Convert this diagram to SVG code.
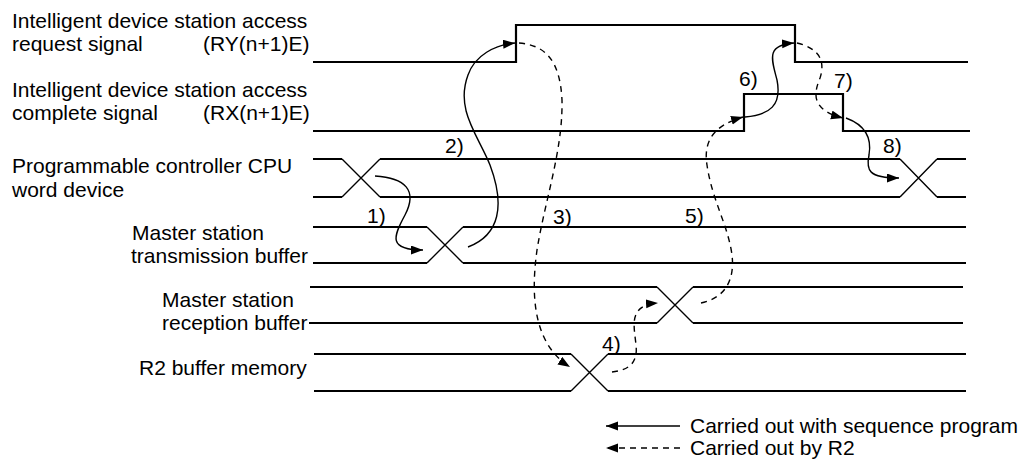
<svg xmlns="http://www.w3.org/2000/svg" width="1027" height="464" viewBox="0 0 1027 464">
<style>
text{font-family:"Liberation Sans",Arial,sans-serif;font-size:21px;fill:#000}
.sig{fill:none;stroke:#000;stroke-width:2.2}
.x{fill:none;stroke:#000;stroke-width:1.4}
.c{fill:none;stroke:#000;stroke-width:1.4}
.d{fill:none;stroke:#000;stroke-width:1.4;stroke-dasharray:6 5}
</style>
<defs>
<marker id="ah" markerUnits="userSpaceOnUse" markerWidth="13" markerHeight="10" refX="12" refY="4.5" orient="auto">
<path d="M0,0 L12,4.5 L0,9 z" fill="#000"/>
</marker>
</defs>
<rect width="1027" height="464" fill="#fff"/>
<g id="ry">
<text x="12" y="28">Intelligent device station access</text>
<text x="12" y="51">request signal</text>
<text x="203" y="51">(RY(n+1)E)</text>
<polyline class="sig" points="313,62 516,62 516,25 795,25 795,62 968,62"/>
</g>
<g id="rx">
<text x="12" y="97">Intelligent device station access</text>
<text x="12" y="120">complete signal</text>
<text x="203" y="120">(RX(n+1)E)</text>
<polyline class="sig" points="313,131 744,131 744,94 843,94 843,131 970,131"/>
</g>
<g id="cpu">
<text x="12" y="173">Programmable controller CPU</text>
<text x="12" y="197">word device</text>
<path class="sig" d="M313,159 H342 M380,159 H900 M937,159 H966 M313,197 H342 M380,197 H900 M937,197 H966"/>
<path class="x" d="M342,159 L380,197 M342,197 L380,159 M900,159 L937,197 M900,197 L937,159"/>
</g>
<g id="mtx">
<text x="132" y="240">Master station</text>
<text x="131" y="263">transmission buffer</text>
<path class="sig" d="M313,227 H427 M463,227 H966 M313,263 H427 M463,263 H966"/>
<path class="x" d="M427,227 L463,263 M427,263 L463,227"/>
</g>
<g id="mrx">
<text x="162" y="307">Master station</text>
<text x="162" y="330">reception buffer</text>
<path class="sig" d="M310,287 H657 M693,287 H963 M309,323 H657 M693,323 H963"/>
<path class="x" d="M657,287 L693,323 M657,323 L693,287"/>
</g>
<g id="r2">
<text x="139" y="375">R2 buffer memory</text>
<path class="sig" d="M314,354 H571 M608,354 H966 M314,391 H571 M608,391 H966"/>
<path class="x" d="M571,354 L608,391 M571,391 L608,354"/>
</g>
<g id="connectors">
<path class="c" marker-end="url(#ah)" d="M375,176 C405,178 418,190 405,215 C393,237 388,250 423,250"/>
<path class="c" marker-end="url(#ah)" d="M468,247 C500,235 505,205 490,165 C478,135 455,110 468,75 C475,55 495,45 515,43"/>
<path class="d" marker-end="url(#ah)" d="M519,43 C545,45 560,60 562,100 C563,150 545,200 537,250 C530,300 535,345 570,367"/>
<path class="d" marker-end="url(#ah)" d="M612,372 C630,370 638,362 636,345 C634,325 628,305 658,303"/>
<path class="d" marker-end="url(#ah)" d="M701,303 C725,298 735,280 732,255 C728,225 712,200 707,165 C703,140 715,125 743,117"/>
<path class="c" marker-end="url(#ah)" d="M745,117 C770,115 782,105 777,80 C772,60 765,45 794,43"/>
<path class="d" marker-end="url(#ah)" d="M797,43 C818,48 826,60 820,78 C813,95 812,110 843,118"/>
<path class="c" marker-end="url(#ah)" d="M846,118 C865,125 872,138 869,155 C866,170 868,178 899,178"/>
</g>
<g id="steps">
<text x="367" y="223">1)</text>
<text x="445" y="153">2)</text>
<text x="553" y="224">3)</text>
<text x="602" y="351">4)</text>
<text x="685" y="223">5)</text>
<text x="739" y="86">6)</text>
<text x="834" y="88">7)</text>
<text x="883" y="153">8)</text>
</g>
<g id="legend">
<line class="c" x1="680" y1="426" x2="606" y2="426" marker-end="url(#ah)"/>
<line class="d" x1="680" y1="448" x2="606" y2="448" marker-end="url(#ah)"/>
<text x="690" y="433">Carried out with sequence program</text>
<text x="690" y="455">Carried out by R2</text>
</g>
</svg>
